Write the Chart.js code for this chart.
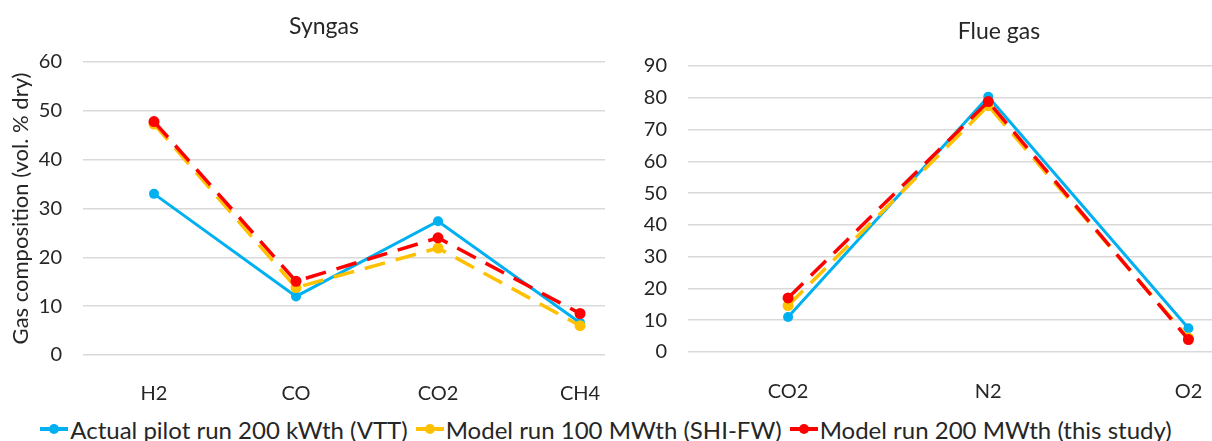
<!DOCTYPE html>
<html>
<head>
<meta charset="utf-8">
<script src="https://cdn.jsdelivr.net/npm/chart.js@4.4.1/dist/chart.umd.min.js"></script>
<style>
  html, body { margin: 0; padding: 0; background: #fff; overflow: hidden; }
  #wrap { position: relative; width: 1212px; height: 441px; overflow: hidden; }
  #caixaSyngas { position: absolute; left: 0; top: 0; width: 605px; height: 400px; overflow: hidden; }
  #graficoSyngas { position: absolute; left: 0; top: 0; }
  #graficoFlue { position: absolute; left: 610px; top: 0; }
  #legenda {
    position: absolute; left: 0; top: 414px; width: 1212px; height: 30px;
    display: flex; justify-content: center; align-items: center;
    font-family: Lato, sans-serif; font-size: 24px; color: #262626; white-space: nowrap;
  }
  .item { display: inline-flex; align-items: center; margin: 0 4px; }
  .marca { position: relative; width: 28px; height: 4px; margin-right: 2px; }
  .marca i { position: absolute; left: 9px; top: -3px; width: 10px; height: 10px; border-radius: 50%; }
</style>
</head>
<body>
<div id="wrap">
  <div id="caixaSyngas"><canvas id="graficoSyngas" width="640" height="400"></canvas></div>
  <canvas id="graficoFlue" width="778" height="400"></canvas>
  <div id="legenda"></div>
</div>
<script>
// Dados
const syngasCats = ['H2', 'CO', 'CO2', 'CH4'];
const syngasVtt = [33.0, 12.0, 27.4, 6.6];
const syngasShi = [47.3, 13.8, 21.9, 6.0];
const syngasStudy = [47.8, 15.1, 24.0, 8.5];
const syngasTicks = [0, 10, 20, 30, 40, 50, 60];

const flueCats = ['CO2', 'N2', 'O2'];
const flueVtt = [11.0, 80.3, 7.5];
const flueShi = [14.6, 77.5, 4.4];
const flueStudy = [17.0, 78.8, 3.9];
const flueTicks = [0, 10, 20, 30, 40, 50, 60, 70, 80, 90];

const seriesNames = [
  'Actual pilot run 200 kWth (VTT)',
  'Model run 100 MWth (SHI-FW)',
  'Model run 200 MWth (this study)'
];
const seriesColors = ['#00B0F0', '#FFC000', '#FF0000'];

const FONTE = 'Lato';
const COR_TEXTO = '#262626';

/**
 * Monta os datasets (x = índice da categoria)
 */
function montarDatasets(listas) {
  return listas.map((valores, s) => ({
    label: seriesNames[s],
    data: valores.map((v, i) => ({ x: i, y: v })),
    borderColor: seriesColors[s],
    backgroundColor: seriesColors[s],
    borderWidth: s === 0 ? 3 : 3.5,
    borderDash: s === 0 ? [] : [21, 11],
    pointRadius: s === 0 ? 5 : 5.5,
    pointHoverRadius: 6,
    pointBorderWidth: 0,
    order: 2 - s,
    tension: 0
  }));
}

/**
 * Cria um gráfico com eixo x linear e rótulos de categoria
 */
function criarGrafico(id, cfg) {
  const ctx = document.getElementById(id).getContext('2d');
  return new Chart(ctx, {
    type: 'line',
    data: { datasets: montarDatasets(cfg.series) },
    options: {
      responsive: false,
      animation: false,
      layout: { padding: cfg.padding },
      plugins: {
        legend: { display: false },
        tooltip: { enabled: false },
        title: {
          display: true,
          text: cfg.titulo,
          color: COR_TEXTO,
          font: { family: FONTE, size: 23, weight: 'normal' },
          padding: cfg.tituloPadding
        }
      },
      scales: {
        x: {
          type: 'linear',
          min: -0.5,
          max: cfg.xMax,
          grid: { display: false },
          border: { display: false },
          afterBuildTicks: s => { s.ticks = cfg.cats.map((c, i) => ({ value: i })); },
          afterFit: s => { s.height = cfg.xAltura; },
          ticks: {
            color: COR_TEXTO,
            padding: cfg.xPad,
            maxRotation: 0,
            autoSkip: false,
            font: { family: FONTE, size: 20 },
            callback: v => cfg.cats[v]
          }
        },
        y: {
          min: 0,
          max: cfg.yTicks[cfg.yTicks.length - 1],
          afterBuildTicks: s => { s.ticks = cfg.yTicks.map(v => ({ value: v })); },
          afterFit: s => { s.width = cfg.yLargura; },
          grid: { color: '#d9d9d9', lineWidth: 1.5, drawTicks: false },
          border: { display: false },
          title: {
            display: !!cfg.yTitulo,
            text: cfg.yTitulo || '',
            color: COR_TEXTO,
            font: { family: FONTE, size: 22 },
            padding: 0
          },
          ticks: {
            color: COR_TEXTO,
            padding: 21,
            font: { family: FONTE, size: 20 }
          }
        }
      }
    }
  });
}

criarGrafico('graficoSyngas', {
  titulo: 'Syngas',
  cats: syngasCats,
  series: [syngasVtt, syngasShi, syngasStudy],
  yTicks: syngasTicks,
  yTitulo: 'Gas composition (vol. % dry)',
  xMax: 3.38,
  padding: { left: 8, right: 0, top: 0, bottom: 0 },
  tituloPadding: { top: 13, bottom: 21.4 },
  yLargura: 75,
  xAltura: 45,
  xPad: 19
});

criarGrafico('graficoFlue', {
  titulo: 'Flue gas',
  cats: flueCats,
  series: [flueVtt, flueShi, flueStudy],
  yTicks: flueTicks,
  yTitulo: null,
  xMax: 2.967,
  padding: { left: 0, right: 0, top: 0, bottom: 0 },
  tituloPadding: { top: 18, bottom: 20.4 },
  yLargura: 78,
  xAltura: 48,
  xPad: 20
});

// Legenda comum aos dois gráficos
const legenda = document.getElementById('legenda');
seriesNames.forEach((nome, i) => {
  const item = document.createElement('span');
  item.className = 'item';
  item.innerHTML = `<span class="marca" style="background:${seriesColors[i]}"><i style="background:${seriesColors[i]}"></i></span>${nome}`;
  legenda.appendChild(item);
});
</script>
</body>
</html>
